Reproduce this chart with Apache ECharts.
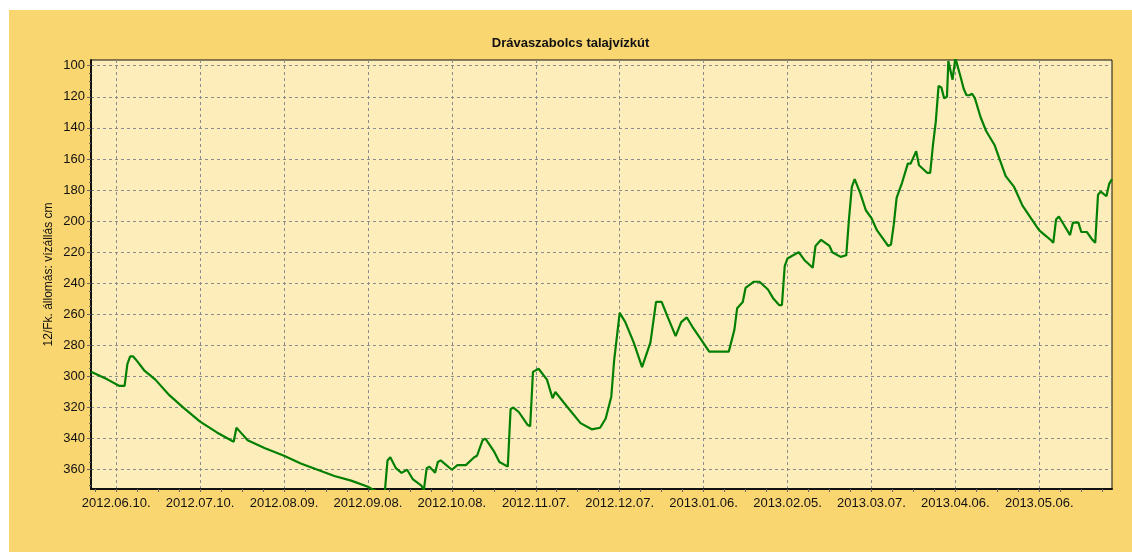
<!DOCTYPE html>
<html>
<head>
<meta charset="utf-8">
<script src="https://cdn.jsdelivr.net/npm/echarts@6/dist/echarts.min.js"></script>
<style>
  html, body { margin: 0; padding: 0; background: #fff; }
  #chart { position: absolute; left: 9px; top: 10px; width: 1123px; height: 542px; background: #FAD671; }
</style>
</head>
<body>
<div id="chart"></div>
<script>
// Drávaszabolcs talajvízkút - vízállás (cm), 2012.06 - 2013.06
var dates = [
    '2012-06-01', '2012-06-07', '2012-06-11', '2012-06-13', '2012-06-14', '2012-06-15', '2012-06-16', '2012-06-17',
    '2012-06-20', '2012-06-24', '2012-06-29', '2012-07-04', '2012-07-10', '2012-07-16', '2012-07-22', '2012-07-23',
    '2012-07-24', '2012-07-27', '2012-08-02', '2012-08-09', '2012-08-15', '2012-08-21', '2012-08-27', '2012-09-02',
    '2012-09-08', '2012-09-10', '2012-09-13', '2012-09-14', '2012-09-15', '2012-09-16', '2012-09-18', '2012-09-20',
    '2012-09-22', '2012-09-24', '2012-09-27', '2012-09-28', '2012-09-29', '2012-09-30', '2012-10-02', '2012-10-03',
    '2012-10-04', '2012-10-08', '2012-10-10', '2012-10-13', '2012-10-16', '2012-10-17', '2012-10-19', '2012-10-20',
    '2012-10-23', '2012-10-25', '2012-10-28', '2012-10-29', '2012-10-30', '2012-11-01', '2012-11-04', '2012-11-05',
    '2012-11-06', '2012-11-08', '2012-11-11', '2012-11-13', '2012-11-14', '2012-11-18', '2012-11-23', '2012-11-27',
    '2012-11-30', '2012-12-02', '2012-12-04', '2012-12-05', '2012-12-07', '2012-12-09', '2012-12-12', '2012-12-15',
    '2012-12-18', '2012-12-20', '2012-12-22', '2012-12-24', '2012-12-27', '2012-12-29', '2012-12-31', '2013-01-02',
    '2013-01-05', '2013-01-08', '2013-01-15', '2013-01-17', '2013-01-18', '2013-01-20', '2013-01-21', '2013-01-24',
    '2013-01-26', '2013-01-29', '2013-01-31', '2013-02-02', '2013-02-03', '2013-02-04', '2013-02-05', '2013-02-07',
    '2013-02-09', '2013-02-11', '2013-02-14', '2013-02-15', '2013-02-17', '2013-02-20', '2013-02-21', '2013-02-24',
    '2013-02-26', '2013-02-27', '2013-02-28', '2013-03-01', '2013-03-03', '2013-03-05', '2013-03-07', '2013-03-09',
    '2013-03-11', '2013-03-13', '2013-03-14', '2013-03-15', '2013-03-16', '2013-03-18', '2013-03-20', '2013-03-21',
    '2013-03-23', '2013-03-24', '2013-03-27', '2013-03-28', '2013-03-29', '2013-03-30', '2013-03-31', '2013-04-01',
    '2013-04-02', '2013-04-03', '2013-04-03 12:00', '2013-04-04', '2013-04-05', '2013-04-06', '2013-04-08', '2013-04-09',
    '2013-04-10', '2013-04-11', '2013-04-12', '2013-04-13', '2013-04-15', '2013-04-17', '2013-04-20', '2013-04-22',
    '2013-04-24', '2013-04-27', '2013-04-30', '2013-05-03', '2013-05-06', '2013-05-08', '2013-05-10', '2013-05-11',
    '2013-05-12', '2013-05-13', '2013-05-15', '2013-05-17', '2013-05-18', '2013-05-20', '2013-05-21', '2013-05-23',
    '2013-05-25', '2013-05-26', '2013-05-27', '2013-05-28', '2013-05-30', '2013-05-31', '2013-06-01'
];
var levels = [
    297, 302, 306, 306, 292, 287, 287, 289,
    296, 302, 312, 320, 329, 336, 342, 333,
    335, 341, 346, 351, 356, 360, 364, 367,
    371, 373, 375, 375, 354, 352, 359, 362,
    360, 366, 370, 373, 359, 358, 362, 355,
    354, 360, 357, 357, 352, 351, 341, 340,
    348, 355, 358, 321, 320, 323, 331, 332,
    297, 295, 302, 314, 310, 319, 330, 334,
    333, 327, 313, 290, 259, 265, 278, 294,
    278, 252, 252, 261, 274, 265, 262, 268,
    276, 284, 284, 270, 256, 252, 243, 239,
    239, 244, 250, 254, 254, 229, 224, 222,
    220, 225, 230, 216, 212, 216, 220, 223,
    222, 198, 178, 173, 182, 193, 198, 206,
    211, 216, 215, 202, 185, 175, 163, 163,
    155, 164, 169, 169, 151, 136, 113, 114,
    121, 120, 97, 98, 109, 95, 108, 115,
    119, 119, 118, 121, 133, 142, 151, 161,
    171, 178, 190, 198, 206, 209, 212, 214,
    199, 197, 203, 209, 201, 201, 207, 207,
    212, 214, 183, 181, 184, 176, 173
];
var xLabelDates = ['2012-06-10', '2012-07-10', '2012-08-09', '2012-09-08', '2012-10-08', '2012-11-07',
    '2012-12-07', '2013-01-06', '2013-02-05', '2013-03-07', '2013-04-06', '2013-05-06'];
var yLabelValues = [100, 120, 140, 160, 180, 200, 220, 240, 260, 280, 300, 320, 340, 360];

var xMin = '2012-06-01';
var xMax = '2013-06-01';
var yMin = 96.3;
var yMax = 372.4;

// 'YYYY-MM-DD' or 'YYYY-MM-DD HH:mm' -> timestamp (local time)
function toTime(s) {
    var p = s.split(/[- :]/);
    return new Date(+p[0], +p[1] - 1, +p[2], +(p[3] || 0), +(p[4] || 0)).getTime();
}
function pad(n) {
    return n < 10 ? '0' + n : '' + n;
}
function fmtDate(v) {
    var d = new Date(v);
    return d.getFullYear() + '.' + pad(d.getMonth() + 1) + '.' + pad(d.getDate()) + '.';
}

var xLabelTimes = xLabelDates.map(toTime);

// small ticks: 4 per 30 days on x, every 5 on y
var DAY = 24 * 3600 * 1000;
var minorX = [];
for (var t = xLabelTimes[0] - 7.5 * DAY; t <= toTime(xMax); t += 7.5 * DAY) {
    minorX.push(t);
}
var minorY = [];
for (var v = 100; v <= 370; v += 5) {
    minorY.push(v);
}

var gridBox = {left: 82, top: 50, right: 20, bottom: 63};

option = {
    animation: false,
    backgroundColor: 'transparent',
    title: {
        text: 'Drávaszabolcs talajvízkút',
        left: 'center',
        top: 22,
        padding: [5, 5, 5, 15],
        textStyle: {
            fontFamily: 'Liberation Sans',
            fontSize: 13,
            fontWeight: 'bold',
            color: '#111'
        }
    },
    grid: [
        {
            left: gridBox.left, top: gridBox.top, right: gridBox.right, bottom: gridBox.bottom,
            show: true,
            backgroundColor: '#FDEDBA',
            borderColor: '#111',
            borderWidth: 1
        },
        {
            left: gridBox.left, top: gridBox.top, right: gridBox.right, bottom: gridBox.bottom,
            show: false
        }
    ],
    xAxis: [
        {
            type: 'value',
            gridIndex: 0,
            min: toTime(xMin),
            max: toTime(xMax),
            axisLine: {show: true, lineStyle: {color: '#111', width: 2}},
            axisTick: {show: true, customValues: xLabelTimes, length: 3, lineStyle: {color: '#666'}},
            axisLabel: {
                customValues: xLabelTimes,
                formatter: fmtDate,
                fontFamily: 'Liberation Sans',
                fontSize: 13,
                color: '#111',
                margin: 8
            },
            splitLine: {show: true, lineStyle: {color: '#8c8c8c', width: 1, type: [3, 3]}}
        },
        {
            type: 'value',
            gridIndex: 1,
            min: toTime(xMin),
            max: toTime(xMax),
            axisLine: {show: false},
            axisTick: {show: true, customValues: minorX, length: 3, lineStyle: {color: '#666'}},
            axisLabel: {show: false},
            splitLine: {show: false}
        }
    ],
    yAxis: [
        {
            type: 'value',
            gridIndex: 0,
            inverse: true,
            min: yMin,
            max: yMax,
            name: '12/Fk. állomás: vízállás cm',
            nameLocation: 'middle',
            nameRotate: 90,
            nameGap: 36,
            nameMoveOverlap: false,
            nameTextStyle: {fontFamily: 'Liberation Sans', fontSize: 12, color: '#111'},
            axisLine: {show: true, lineStyle: {color: '#111', width: 2}},
            axisTick: {show: true, customValues: yLabelValues, length: 4, lineStyle: {color: '#666'}},
            axisLabel: {
                customValues: yLabelValues,
                fontFamily: 'Liberation Sans',
                fontSize: 13,
                color: '#111',
                margin: 6
            },
            splitLine: {show: true, lineStyle: {color: '#8c8c8c', width: 1, type: [3, 3]}}
        },
        {
            type: 'value',
            gridIndex: 1,
            inverse: true,
            min: yMin,
            max: yMax,
            axisLine: {show: false},
            axisTick: {show: true, customValues: minorY, length: 2, lineStyle: {color: '#666'}},
            axisLabel: {show: false},
            splitLine: {show: false}
        }
    ],
    series: [
        {
            name: 'vízállás',
            type: 'line',
            xAxisIndex: 0,
            yAxisIndex: 0,
            showSymbol: false,
            clip: true,
            lineStyle: {color: '#038003', width: 2.2},
            data: dates.map(function (d, i) {
                return [toTime(d), levels[i]];
            })
        }
    ]
};

var myChart = echarts.init(document.getElementById('chart'));
myChart.setOption(option);
</script>
</body>
</html>
